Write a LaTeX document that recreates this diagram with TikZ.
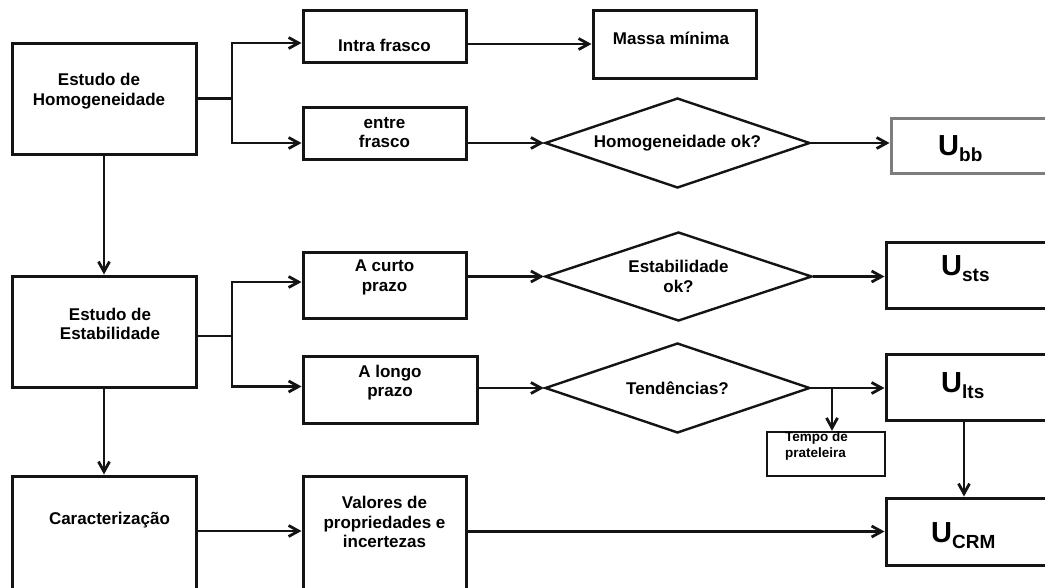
\documentclass[tikz,border=0pt]{standalone}
\usepackage{fontspec}
\setmainfont{Liberation Sans}
\usetikzlibrary{arrows.meta,positioning,calc,shapes.geometric}
\definecolor{ink}{RGB}{20,20,20}
\definecolor{greyline}{RGB}{125,125,125}
\tikzset{
  box/.style={draw=ink, line width=3pt, rectangle, inner sep=0pt},
  greybox/.style={draw=greyline, line width=3pt, rectangle, inner sep=0pt},
  decision/.style={diamond, aspect=2.95, draw=ink, line width=2.4pt, inner sep=0pt, align=center,
    font=\bfseries\fontsize{17}{19.5}\selectfont},
  txt/.style={inner sep=0pt, align=center, font=\bfseries\fontsize{17}{19.5}\selectfont},
  smalltxt/.style={inner sep=0pt, align=left, font=\bfseries\fontsize{13.5}{16}\selectfont},
  utxt/.style={inner sep=0pt, anchor=base west, font=\bfseries},
  flow/.style={-{Straight Barb[length=10pt,width=11pt]}, draw=ink, line width=2.8pt},
  link/.style={draw=ink, line width=2.8pt}
}
\newcommand{\unc}[1]{{\fontsize{29}{30}\selectfont U}\raisebox{-6.5pt}{\fontsize{19}{20}\selectfont #1}}

\begin{document}
\begin{tikzpicture}[x=1pt,y=-1pt]
\useasboundingbox (0,0) rectangle (1045,587);

% left column
\node[box, minimum width=184pt, minimum height=111pt] (homog) at (104,98.5) {};
\node[txt] (homog-t) at (99,91) {Estudo de\\Homogeneidade};
\node[box, minimum width=184pt, minimum height=111pt] (stab) at (104,331.5) {};
\node[txt] (stab-t) at (110,324) {Estudo de\\Estabilidade};
\node[box, minimum width=184pt, minimum height=134pt] (caract) at (104,543) {};
\node[txt] (caract-t) at (109.5,520) {Caracterização};

% second column
\node[box, minimum width=163pt, minimum height=52pt] (intra) at (384.5,36) {};
\node[txt] (intra-t) at (384.5,45) {Intra frasco};
\node[box, minimum width=163pt, minimum height=52pt] (entre) at (384.5,133) {};
\node[txt] (entre-t) at (384.5,132.5) {entre\\frasco};
\node[box, minimum width=163pt, minimum height=66pt] (curto) at (384.5,285) {};
\node[txt] (curto-t) at (384.5,277.5) {A curto\\prazo};
\node[box, minimum width=174pt, minimum height=67pt] (longo) at (390,389.5) {};
\node[txt] (longo-t) at (390,382.5) {A longo\\prazo};
\node[box, minimum width=163pt, minimum height=134pt] (valores) at (384.5,543) {};
\node[txt] (valores-t) at (384.5,522) {Valores de\\propriedades e\\incertezas};

% decisions
\node[box, minimum width=163pt, minimum height=68pt] (massa) at (674.5,44) {};
\node[txt] (massa-t) at (671,38) {Massa mínima};
\node[decision, minimum width=265pt, minimum height=90pt] (dhom) at (677.5,143) {Homogeneidade ok?};
\node[decision, minimum width=267pt, minimum height=89pt] (dest) at (678.5,276.5) {Estabilidade\\ok?};
\node[decision, minimum width=265pt, minimum height=90pt] (dtend) at (677.5,388) {Tendências?};
\node[box, line width=2.4pt, minimum width=118pt, minimum height=44pt] (tempo) at (826,454) {};
\node[smalltxt, anchor=west] (tempo-t) at (785,446.5) {Tempo de\\prateleira};

% uncertainties
\node[greybox, minimum width=169pt, minimum height=55pt] (ubb) at (975.5,145.5) {};
\node[utxt] (ubb-t) at (938,155) {\unc{bb}};
\node[box, minimum width=174pt, minimum height=66pt] (usts) at (973,275) {};
\node[utxt] (usts-t) at (941,275) {\unc{sts}};
\node[box, minimum width=174pt, minimum height=66pt] (ults) at (973,387) {};
\node[utxt] (ults-t) at (941,392) {\unc{lts}};
\node[box, minimum width=174pt, minimum height=67pt] (ucrm) at (973,531.5) {};
\node[utxt] (ucrm-t) at (931,542) {\unc{CRM}};

% homogeneity branch
\coordinate (hb) at (232,98.5);
\draw[link] (homog.east) -- (hb);
\draw[flow] (hb) |- ($(intra.west)+(0,7)$);
\draw[flow] (hb) |- ($(entre.west)+(0,10)$);
\draw[flow] (massa.west -| intra.east) -- (massa.west);
\draw[flow] ($(entre.east)+(0,10)$) -- (dhom.west);
\draw[flow] (dhom.east) -- (dhom.east -| ubb.west);

% down the left column
\draw[flow] (homog) -- (stab);
\draw[flow] (stab) -- (caract);

% stability branch
\coordinate (sb) at (232,336);
\draw[link] (stab.east |- sb) -- (sb);
\draw[flow] (sb) |- ($(curto.west)+(0,-3)$);
\draw[flow] (sb) |- ($(longo.west)+(0,-3)$);
\draw[flow] (dest.west -| curto.east) -- (dest.west);
\draw[flow] (dest.east) -- (dest.east -| usts.west);
\draw[flow] (dtend.west -| longo.east) -- (dtend.west);
\draw[flow] (dtend.east) -- (dtend.east -| ults.west);
\coordinate (tb) at (832,388);
\draw[flow] (tb) -- (tb |- tempo.north);
\coordinate (ud) at (964,0);
\draw[flow] (ults.south -| ud) -- (ucrm.north -| ud);

% characterisation
\coordinate (cb) at (0,531);
\draw[flow] (caract.east |- cb) -- (valores.west |- cb);
\draw[flow] (valores.east |- ucrm.west) -- (ucrm.west);
\end{tikzpicture}
\end{document}
